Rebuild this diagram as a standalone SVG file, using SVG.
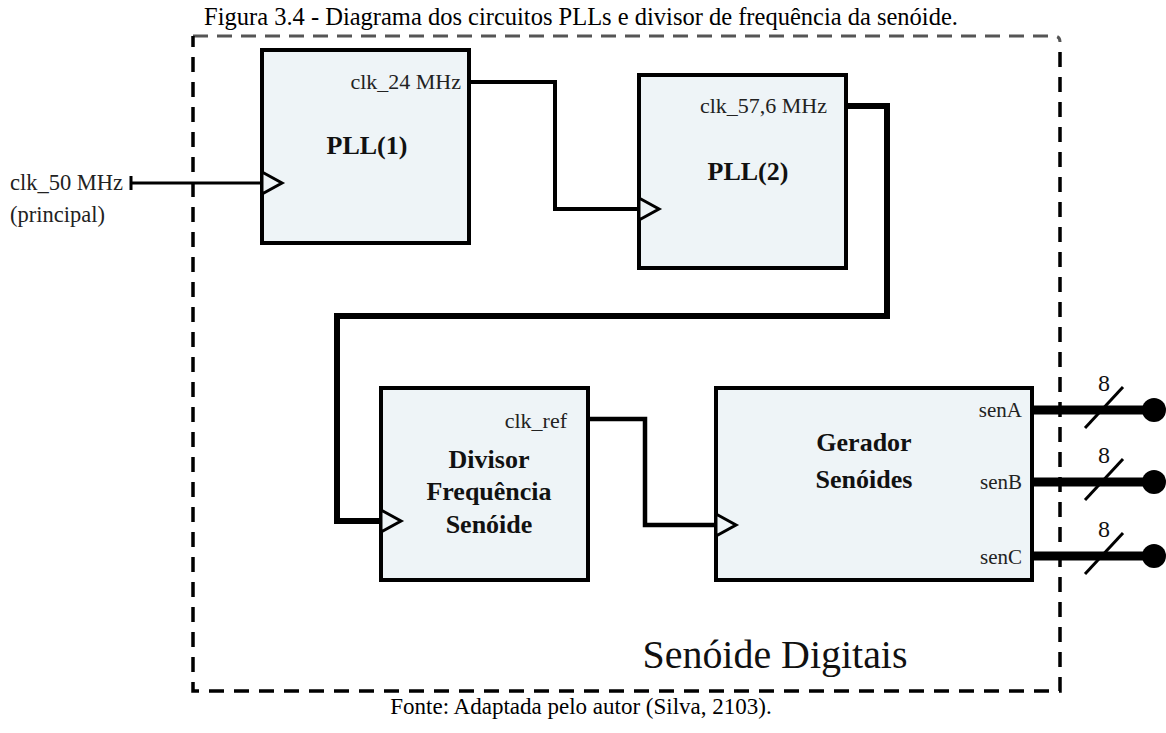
<svg xmlns="http://www.w3.org/2000/svg" width="1166" height="733" viewBox="0 0 1166 733">
  <style>
    .serif { font-family: "Liberation Serif", "Times New Roman", Times, serif; }
    .box { fill: #eef4f7; stroke: #000; stroke-width: 4; }
    .clkin { fill: #eef4f7; stroke: #000; stroke-width: 3; stroke-linejoin: miter; }
    .port { font-size: 22px; fill: #222; text-anchor: end; }
    .title { font-size: 26px; font-weight: bold; fill: #111; text-anchor: middle; }
    .bus { stroke: #000; stroke-width: 9; fill: none; }
    .wire { stroke: #000; fill: none; stroke-linejoin: miter; stroke-linecap: square; }
    .slash { stroke: #000; stroke-width: 3; }
    .width { font-size: 24px; fill: #111; text-anchor: middle; }
    .sen { font-size: 21px; fill: #222; text-anchor: end; }
  </style>

  <rect width="1166" height="733" fill="#fff"/>

  <!-- caption -->
  <text class="serif" x="581" y="25" font-size="24.5" text-anchor="middle" fill="#000">Figura 3.4 - Diagrama dos circuitos PLLs e divisor de frequência da senóide.</text>
  <text class="serif" x="581" y="714" font-size="23" text-anchor="middle" fill="#000">Fonte: Adaptada pelo autor (Silva, 2103).</text>

  <!-- enclosing dashed boundary -->
  <g id="boundary">
    <path d="M193,36 H1054 Q1060,36 1060,42" fill="none" stroke="#555" stroke-width="3" stroke-dasharray="15 9"/>
    <path d="M1060,52 V691 H193 V36" fill="none" stroke="#000" stroke-width="3.5" stroke-dasharray="15 10"/>
    <text class="serif" x="775" y="668" font-size="41" text-anchor="middle" fill="#111" textLength="265" lengthAdjust="spacingAndGlyphs">Senóide Digitais</text>
  </g>

  <!-- connectors -->
  <g id="connectors">
    <line x1="131" y1="183" x2="262" y2="183" stroke="#000" stroke-width="3"/>
    <line x1="131" y1="176" x2="131" y2="190" stroke="#000" stroke-width="3"/>
    <path class="wire" d="M469,82 H555 V209 H639" stroke-width="4"/>
    <path class="wire" d="M846,106 H887 V316 H337 V521 H381" stroke-width="6"/>
    <path class="wire" d="M588,419 H645 V525 H716" stroke-width="4.5"/>

    <line class="bus" x1="1032" y1="410" x2="1154" y2="410"/>
    <line class="bus" x1="1032" y1="482" x2="1154" y2="482"/>
    <line class="bus" x1="1032" y1="556" x2="1154" y2="556"/>
    <circle cx="1154" cy="410" r="12"/>
    <circle cx="1154" cy="482" r="12"/>
    <circle cx="1154" cy="556" r="12"/>
    <line class="slash" x1="1085" y1="428" x2="1123" y2="387"/>
    <line class="slash" x1="1085" y1="500" x2="1123" y2="459"/>
    <line class="slash" x1="1085" y1="574" x2="1123" y2="533"/>
    <text class="serif width" x="1104" y="391">8</text>
    <text class="serif width" x="1104" y="463">8</text>
    <text class="serif width" x="1104" y="537">8</text>
  </g>

  <!-- external clock input label -->
  <g id="clk50">
    <text class="serif" x="10" y="190" font-size="22.5" fill="#222">clk_50 MHz</text>
    <text class="serif" x="10" y="222" font-size="22.5" fill="#222">(principal)</text>
  </g>

  <g id="pll1">
    <rect class="box" x="262" y="50" width="207" height="193"/>
    <polygon class="clkin" points="262,172 282,183 262,194"/>
    <text class="serif port" x="461" y="89">clk_24 MHz</text>
    <text class="serif title" x="367" y="154">PLL(1)</text>
  </g>

  <g id="pll2">
    <rect class="box" x="639" y="75" width="207" height="193"/>
    <polygon class="clkin" points="639,198 659,209 639,220"/>
    <text class="serif port" x="827" y="113" font-size="23">clk_57,6 MHz</text>
    <text class="serif title" x="748" y="180">PLL(2)</text>
  </g>

  <g id="divisor">
    <rect class="box" x="381" y="388" width="207" height="192"/>
    <polygon class="clkin" points="381,510 401,521 381,532"/>
    <text class="serif port" x="567" y="428" font-size="26">clk_ref</text>
    <text class="serif title" x="489" y="468">Divisor</text>
    <text class="serif title" x="489" y="500">Frequência</text>
    <text class="serif title" x="489" y="533">Senóide</text>
  </g>

  <g id="gerador">
    <rect class="box" x="716" y="388" width="316" height="192"/>
    <polygon class="clkin" points="716,514 736,525 716,536"/>
    <text class="serif title" x="864" y="451" font-size="30">Gerador</text>
    <text class="serif title" x="864" y="488">Senóides</text>
    <text class="serif sen" x="1022" y="417">senA</text>
    <text class="serif sen" x="1022" y="489">senB</text>
    <text class="serif sen" x="1022" y="564">senC</text>
  </g>
</svg>
